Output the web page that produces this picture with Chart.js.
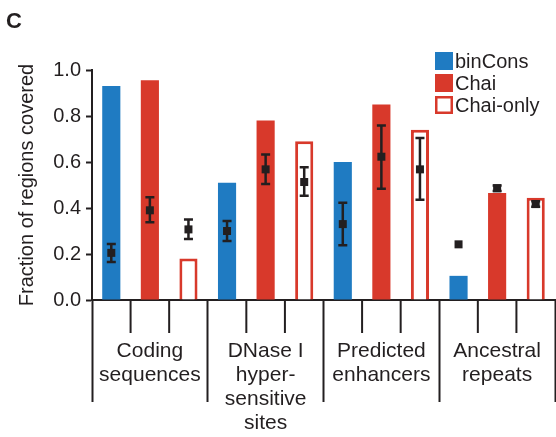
<!DOCTYPE html>
<html>
<head>
<meta charset="utf-8">
<script src="https://cdn.jsdelivr.net/npm/chart.js@4.4.0/dist/chart.umd.min.js"></script>
<style>
  body { margin: 0; background: #fff; }
  canvas { display: block; }
</style>
</head>
<body>
<canvas id="coverChart" width="556" height="437"></canvas>
<script>
// Categories and values
const categories = [
    ['Coding', 'sequences'],
    ['DNase I', 'hyper-', 'sensitive', 'sites'],
    ['Predicted', 'enhancers'],
    ['Ancestral', 'repeats']
];
const seriesNames = ['binCons', 'Chai', 'Chai-only'];

const binCons = [0.93, 0.51, 0.60, 0.105];
const chai = [0.955, 0.78, 0.85, 0.465];
const chaiOnly = [0.18, 0.69, 0.74, 0.445];

// expected coverage (black squares) with error range
const binConsExp = [0.205, 0.30, 0.33, 0.242];
const binConsLow = [0.165, 0.256, 0.238, 0.242];
const binConsHigh = [0.243, 0.343, 0.423, 0.242];

const chaiExp = [0.39, 0.568, 0.623, 0.486];
const chaiLow = [0.338, 0.504, 0.484, 0.474];
const chaiHigh = [0.447, 0.633, 0.759, 0.498];

const chaiOnlyExp = [0.307, 0.513, 0.568, 0.417];
const chaiOnlyLow = [0.265, 0.453, 0.436, 0.405];
const chaiOnlyHigh = [0.35, 0.577, 0.704, 0.429];

const yTickLabels = ['0.0', '0.2', '0.4', '0.6', '0.8', '1.0'];

const BLUE = '#1f7bc2';
const RED = '#d8392b';
const INK = '#231f20';
const FONT = "'Liberation Sans', Arial, Helvetica, sans-serif";

const expected = [binConsExp, chaiExp, chaiOnlyExp];
const lows = [binConsLow, chaiLow, chaiOnlyLow];
const highs = [binConsHigh, chaiHigh, chaiOnlyHigh];

// short ticks between bars, error bars, legend and panel letter
const extrasPlugin = {
    id: 'extras',
    afterDatasetsDraw(chart) {
        const ctx = chart.ctx;
        const y = chart.scales.y;
        ctx.save();
        ctx.strokeStyle = INK;
        ctx.fillStyle = INK;
        ctx.lineWidth = 2.5;
        expected.forEach((vals, d) => {
            const meta = chart.getDatasetMeta(d);
            vals.forEach((v, i) => {
                const x = meta.data[i].x;
                const yc = y.getPixelForValue(v);
                const yl = y.getPixelForValue(lows[d][i]);
                const yh = y.getPixelForValue(highs[d][i]);
                if (yl - yh > 1) {
                    ctx.beginPath();
                    ctx.moveTo(x, yl);
                    ctx.lineTo(x, yh);
                    ctx.moveTo(x - 4.5, yl);
                    ctx.lineTo(x + 4.5, yl);
                    ctx.moveTo(x - 4.5, yh);
                    ctx.lineTo(x + 4.5, yh);
                    ctx.stroke();
                }
                ctx.fillRect(x - 4, yc - 4, 8, 8);
            });
        });
        ctx.restore();
    },
    afterDraw(chart) {
        const ctx = chart.ctx;
        const area = chart.chartArea;
        ctx.save();

        // short ticks between bars of a group
        ctx.strokeStyle = INK;
        ctx.lineWidth = 2;
        categories.forEach((c, i) => {
            for (let k = 1; k < seriesNames.length; k++) {
                const a = chart.getDatasetMeta(k - 1).data[i].x;
                const b = chart.getDatasetMeta(k).data[i].x;
                const x = (a + b) / 2;
                ctx.beginPath();
                ctx.moveTo(x, area.bottom);
                ctx.lineTo(x, area.bottom + 33);
                ctx.stroke();
            }
        });

        // legend
        const lx = 435, top = 52, pitch = 22, size = 18;
        ctx.font = '20px ' + FONT;
        ctx.textBaseline = 'middle';
        ctx.textAlign = 'left';
        chart.data.datasets.forEach((ds, i) => {
            const ty = top + i * pitch;
            if (ds.borderWidth) {
                ctx.fillStyle = '#fff';
                ctx.fillRect(lx, ty, size, size);
                ctx.strokeStyle = ds.borderColor;
                ctx.lineWidth = 2.5;
                ctx.strokeRect(lx + 1.25, ty + 1.25, size - 2.5, size - 2.5);
            } else {
                ctx.fillStyle = ds.backgroundColor;
                ctx.fillRect(lx, ty, size, size);
            }
            ctx.fillStyle = INK;
            ctx.fillText(ds.label, lx + 20, ty + size / 2 + 1);
        });

        // panel letter
        ctx.font = 'bold 22px ' + FONT;
        ctx.textBaseline = 'alphabetic';
        ctx.fillText('C', 6, 28);
        ctx.restore();
    }
};

const ctx = document.getElementById('coverChart').getContext('2d');
new Chart(ctx, {
    type: 'bar',
    data: {
        labels: categories,
        datasets: [
            { label: seriesNames[0], data: binCons, backgroundColor: BLUE },
            { label: seriesNames[1], data: chai, backgroundColor: RED },
            {
                label: seriesNames[2], data: chaiOnly, backgroundColor: '#fff',
                borderColor: RED, borderWidth: 3, borderSkipped: 'start'
            }
        ]
    },
    options: {
        responsive: false,
        animation: false,
        barPercentage: 0.47,
        categoryPercentage: 1,
        layout: { padding: { top: 70, right: 1, bottom: 0, left: 0 } },
        plugins: {
            legend: { display: false },
            tooltip: { enabled: false }
        },
        scales: {
            x: {
                grid: {
                    display: true,
                    drawOnChartArea: false,
                    offset: true,
                    tickLength: 102,
                    tickWidth: 2,
                    tickColor: INK
                },
                border: { display: true, color: INK, width: 2 },
                ticks: {
                    color: INK,
                    font: { family: FONT, size: 21, lineHeight: 1.15 },
                    padding: -63,
                    maxRotation: 0,
                    autoSkip: false
                },
                afterFit: (scale) => { scale.height = 137; }
            },
            y: {
                min: 0,
                max: 1,
                ticks: {
                    stepSize: 0.1,
                    color: INK,
                    padding: 5,
                    font: { family: FONT, size: 20 },
                    callback: (value) => {
                        const label = value.toFixed(1);
                        return yTickLabels.includes(label) ? label : '';
                    }
                },
                grid: {
                    drawOnChartArea: false,
                    tickLength: 6,
                    tickWidth: 2,
                    tickColor: INK
                },
                border: { display: true, color: INK, width: 2 },
                title: {
                    display: true,
                    text: 'Fraction of regions covered',
                    color: INK,
                    font: { family: FONT, size: 20 },
                    padding: { top: 15, bottom: 0 }
                },
                afterFit: (scale) => { scale.width = 92; }
            }
        }
    },
    plugins: [extrasPlugin]
});
</script>
</body>
</html>
